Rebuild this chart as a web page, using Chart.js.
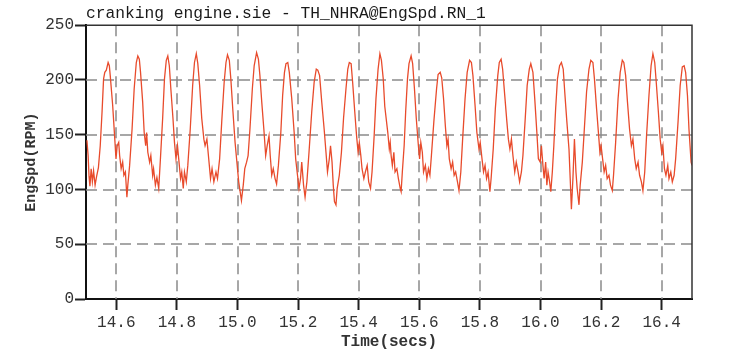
<!DOCTYPE html>
<html>
<head>
<meta charset="utf-8">
<script src="https://cdn.jsdelivr.net/npm/chart.js@4.4.1/dist/chart.umd.min.js"></script>
<style>
  html,body{margin:0;padding:0;background:#fff;}
  #wrap{width:733px;height:353px;}
</style>
</head>
<body>
<div id="wrap"><canvas id="c" width="733" height="353"></canvas></div>
<script>
// ---- data ----
const chartTitle = 'cranking engine.sie - TH_NHRA@EngSpd.RN_1';
const xTitle = 'Time(secs)';
const yTitle = 'EngSpd(RPM)';
const xTicks = [14.6, 14.8, 15.0, 15.2, 15.4, 15.6, 15.8, 16.0, 16.2, 16.4];
const yTicks = [0, 50, 100, 150, 200, 250];

const timeSecs = [
14.503,14.507,14.510,14.513,14.517,14.521,14.525,14.530,14.535,14.541,14.547,14.553,14.558,14.562,14.567,14.573,14.577,14.580,14.588,14.595,
14.599,14.603,14.608,14.611,14.616,14.621,14.625,14.630,14.635,14.638,14.644,14.652,14.659,14.666,14.671,14.676,14.680,14.687,14.692,14.697,
14.700,14.704,14.710,14.714,14.720,14.723,14.729,14.734,14.740,14.745,14.753,14.759,14.765,14.770,14.775,14.780,14.787,14.792,14.797,14.802,
14.808,14.812,14.816,14.821,14.825,14.831,14.836,14.844,14.852,14.858,14.864,14.869,14.875,14.882,14.889,14.893,14.899,14.904,14.911,14.916,
14.922,14.929,14.934,14.941,14.948,14.956,14.962,14.967,14.973,14.978,14.985,14.992,
14.997,15.004,15.013,15.019,15.024,15.030,15.035,15.041,15.049,15.055,15.063,15.069,15.074,15.080,15.087,15.093,15.098,15.104,15.108,15.113,
15.118,15.124,15.129,15.135,15.143,15.149,15.155,15.160,15.166,15.171,15.179,15.187,15.192,15.198,15.203,15.208,15.212,15.218,15.223,15.229,
15.236,15.245,15.253,15.260,15.265,15.271,15.278,15.286,15.292,15.297,15.303,15.307,15.312,15.316,15.320,15.325,15.329,15.336,15.343,15.350,
15.358,15.364,15.369,15.375,15.380,15.387,15.393,15.398,15.402,15.407,15.411,15.417,15.422,15.428,15.433,15.439,15.444,15.451,15.457,15.464,
15.470,15.475,15.481,15.486,
15.496,15.501,15.504,15.507,15.511,15.516,15.520,15.526,15.531,15.537,15.540,15.544,15.550,15.555,15.561,15.566,15.573,15.578,15.584,15.590,
15.597,15.601,15.605,15.610,15.614,15.620,15.625,15.630,15.635,15.640,15.648,15.657,15.662,15.669,15.674,15.680,15.686,15.691,15.695,15.699,
15.705,15.710,15.715,15.720,15.726,15.731,15.737,15.743,15.751,15.758,15.766,15.772,15.777,15.784,15.790,15.797,15.801,15.807,15.812,15.817,
15.822,15.827,15.833,15.837,15.844,15.851,15.859,15.864,15.870,15.875,15.882,15.889,15.894,15.899,15.904,15.909,15.915,15.920,15.926,15.931,
15.937,15.942,15.949,15.956,15.963,15.968,15.975,15.981,15.988,15.993,
15.999,16.003,16.008,16.012,16.017,16.021,16.025,16.030,16.034,16.039,16.044,16.050,16.056,16.063,16.069,16.075,16.080,16.087,16.094,16.098,
16.102,16.107,16.112,16.117,16.121,16.127,16.131,16.138,16.144,16.152,16.160,16.166,16.173,16.178,16.185,16.192,16.196,16.200,16.205,16.210,
16.215,16.220,16.226,16.231,16.237,16.241,16.248,16.256,16.263,16.270,16.275,16.281,16.287,16.294,16.300,16.305,16.311,16.316,16.322,16.327,
16.333,16.338,16.344,16.350,16.358,16.365,16.371,16.377,16.382,16.389,16.395,16.400,16.404,16.409,16.414,16.420,16.424,16.430,16.435,16.441,
16.446,16.454,16.461,16.468,16.474,16.479,16.485,16.490,16.497,16.500
];

const engSpdRpm = [
145,131,112,103,119,107,117,104,112,120,140,171,201,207,209,216,213,204,177,146,
128,140,143,131,119,125,113,116,93,104,122,155,192,216,222,219,207,180,152,140,
152,134,125,131,113,119,104,111,101,125,165,201,218,222,213,192,165,143,128,140,
122,110,116,101,116,107,122,155,195,216,224,215,195,165,146,140,146,131,110,119,
107,116,110,128,162,198,216,223,218,201,171,143,
128,107,90,104,119,125,131,155,192,213,225,219,204,180,155,131,140,149,131,113,
119,110,105,122,152,186,207,215,216,207,183,152,128,113,101,110,125,104,93,107,
134,171,198,210,209,204,180,155,134,116,128,140,125,104,89,86,101,113,134,165,
192,210,216,215,198,171,149,134,143,131,119,110,116,122,107,101,116,149,183,210,
224,218,201,176,
152,137,143,131,122,134,116,119,110,101,98,116,140,171,201,215,222,215,192,165,
140,128,143,134,116,122,110,119,113,131,162,192,205,207,202,183,158,140,146,128,
119,125,113,116,107,99,116,146,183,207,218,216,204,177,152,137,143,128,116,122,
110,116,98,110,137,174,204,216,219,210,186,162,146,137,146,131,116,125,116,107,
116,131,162,195,210,215,207,183,152,128,
125,140,122,110,125,104,116,107,98,116,140,174,201,213,216,210,189,162,137,110,
82,110,146,116,101,86,104,125,152,189,210,218,216,201,174,149,134,140,128,116,
122,110,113,104,99,113,143,183,207,218,216,204,180,155,140,146,128,119,125,113,
107,99,116,149,186,213,224,216,198,171,146,134,140,119,113,122,110,116,107,113,
128,162,195,212,213,207,186,155,125,122
];

const points = timeSecs.map((t, i) => ({x: t, y: engSpdRpm[i]}));

const monoFamily = "'Liberation Mono','DejaVu Sans Mono',monospace";

const gridFrame = {
  id: 'gridFrame',
  beforeDatasetsDraw(chart) {
    const {ctx, chartArea: a, scales: {x, y}} = chart;
    ctx.save();
    ctx.strokeStyle = '#8a8a8a';
    ctx.lineWidth = 1.5;
    ctx.setLineDash([11, 6]);
    xTicks.forEach(v => {
      const px = Math.round(x.getPixelForValue(v));
      ctx.beginPath(); ctx.moveTo(px, a.top); ctx.lineTo(px, a.bottom); ctx.stroke();
    });
    yTicks.slice(1, -1).forEach(v => {
      const py = Math.round(y.getPixelForValue(v));
      ctx.beginPath(); ctx.moveTo(a.left, py); ctx.lineTo(a.right, py); ctx.stroke();
    });
    ctx.restore();
  },
  afterDatasetsDraw(chart) {
    const {ctx, chartArea: a} = chart;
    ctx.save();
    ctx.strokeStyle = '#333';
    ctx.lineWidth = 1.5;
    ctx.beginPath();
    ctx.moveTo(a.left, a.top); ctx.lineTo(a.right, a.top); ctx.lineTo(a.right, a.bottom);
    ctx.stroke();
    ctx.restore();
  }
};

new Chart(document.getElementById('c'), {
  type: 'line',
  data: {
    datasets: [{
      label: 'TH_NHRA@EngSpd.RN_1',
      data: points,
      borderColor: '#e84b2c',
      borderWidth: 1.3,
      pointRadius: 0,
      tension: 0,
      fill: false
    }]
  },
  options: {
    responsive: false,
    animation: false,
    events: [],
    layout: {padding: {left: 0, right: 41, top: 0, bottom: 0}},
    plugins: {
      legend: {display: false},
      tooltip: {enabled: false},
      title: {
        display: true,
        text: chartTitle,
        align: 'start',
        fullSize: false,
        color: '#1a1a1a',
        font: {family: monoFamily, size: 16.25, weight: 'normal', lineHeight: 1},
        padding: {top: 6, bottom: 3}
      }
    },
    scales: {
      x: {
        type: 'linear',
        min: 14.5,
        max: 16.5,
        afterBuildTicks: s => { s.ticks = xTicks.map(v => ({value: v})); },
        afterFit: s => { s.height = 54; },
        ticks: {
          color: '#333',
          font: {family: monoFamily, size: 16},
          padding: 3,
          maxRotation: 0,
          autoSkip: false,
          callback: v => Number(v).toFixed(1)
        },
        grid: {drawOnChartArea: false, drawTicks: true, tickLength: 11, tickColor: '#222', tickWidth: 2},
        border: {display: true, color: '#111', width: 2},
        title: {
          display: true, text: xTitle, color: '#333',
          font: {family: monoFamily, size: 16, weight: 'bold', lineHeight: 1.2},
          padding: {top: 0, bottom: 1}
        }
      },
      y: {
        type: 'linear',
        min: 0,
        max: 250,
        afterBuildTicks: s => { s.ticks = yTicks.map(v => ({value: v})); },
        afterFit: s => { s.width = 86; },
        ticks: {
          color: '#333',
          font: {family: monoFamily, size: 16},
          padding: 1,
          autoSkip: false,
          callback: v => String(v)
        },
        grid: {drawOnChartArea: false, drawTicks: true, tickLength: 11, tickColor: '#222', tickWidth: 2},
        border: {display: true, color: '#111', width: 2},
        title: {
          display: true, text: yTitle, color: '#333',
          font: {family: monoFamily, size: 15, weight: 'bold', lineHeight: 1.2},
          padding: {top: 22, bottom: 0}
        }
      }
    }
  },
  plugins: [gridFrame]
});
</script>
</body>
</html>
